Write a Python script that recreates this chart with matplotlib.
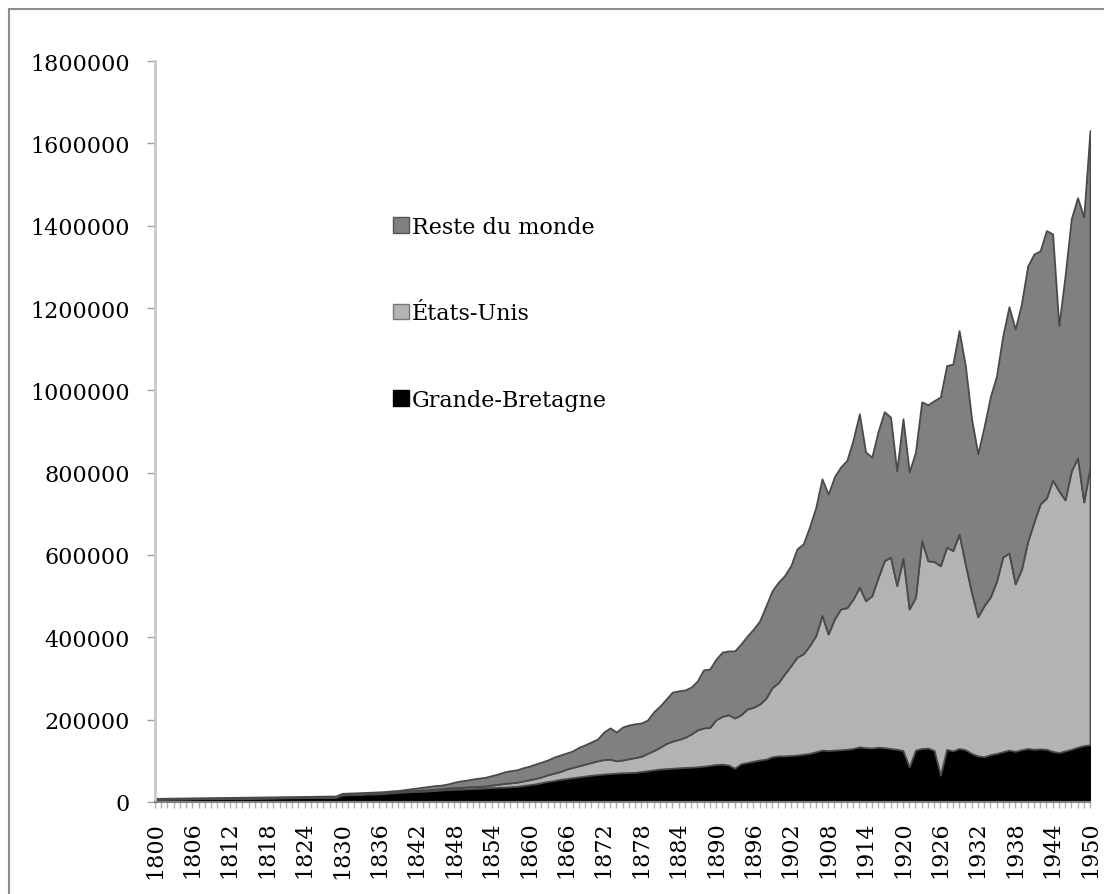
import matplotlib
matplotlib.use("Agg")
import matplotlib.pyplot as plt
from matplotlib.patches import Patch, Rectangle

plt.rcParams['font.family'] = ['DejaVu Serif']

years = list(range(1800, 1951))

grande_bretagne = [
    7000, 7100, 7300, 7400, 7600, 7700, 7900, 8000, 8200, 8300,
    8500, 8600, 8800, 8900, 9100, 9200, 9400, 9500, 9700, 9800,
    10000, 10100, 10300, 10400, 10600, 10700, 10900, 11000, 11200, 11300,
    17000, 17500, 18000, 18500, 19000, 19500, 20000, 21000, 22000, 23000,
    24000, 25000, 25500, 26000, 27000, 28000, 29000, 30000, 30500, 31000,
    32000, 32500, 33000, 34000, 35000, 35500, 36000, 37000, 38000, 40000,
    42000, 44000, 47000, 50000, 52000, 55000, 57000, 59000, 61000, 63000,
    65000, 66500, 68000, 69000, 70000, 71000, 71500, 72000, 74000, 76000,
    78000, 80000, 81000, 82000, 83000, 84000, 84500, 85500, 87000, 89000,
    91000, 92000, 90000, 82000, 93000, 96000, 99000, 102000, 104000, 110000,
    112000, 112000, 113000, 114000, 116000, 118000, 122000, 126000, 125000, 126000,
    127000, 128000, 130000, 134000, 132000, 131000, 133000, 132000, 130000, 128000,
    125000, 85000, 126000, 130000, 131000, 125000, 65000, 128000, 124000, 130000,
    127000, 118000, 112000, 110000, 115000, 118000, 122000, 126000, 123000, 127000,
    130000, 128000, 129000, 128000, 123000, 120000, 124000, 128000, 133000, 137000,
    139000,
]

etats_unis = [
    100, 100, 100, 150, 150, 150, 200, 200, 200, 250,
    250, 250, 300, 300, 300, 350, 350, 400, 400, 450,
    450, 500, 500, 550, 600, 600, 650, 700, 750, 800,
    1000, 1100, 1200, 1300, 1400, 1500, 1600, 1700, 2000, 2000,
    2000, 2500, 2500, 3000, 3000, 3500, 3500, 4000, 4500, 4500,
    5000, 5000, 5000, 5000, 6000, 7500, 9000, 9500, 10000, 11000,
    12000, 13000, 14000, 16000, 18000, 19000, 23000, 25000, 27000, 29000,
    31000, 33500, 35000, 35000, 30000, 31000, 33500, 36000, 37000, 42000,
    47000, 53000, 61000, 66000, 69000, 73000, 80500, 89500, 93000, 92000,
    109000, 116000, 122000, 122000, 119000, 130000, 131000, 136000, 148000, 168000,
    178000, 199000, 218000, 238000, 244000, 262000, 282000, 327000, 283000, 319000,
    342000, 344000, 363000, 388000, 357000, 370000, 412000, 454000, 465000, 398000,
    467000, 384000, 371000, 505000, 455000, 459000, 509000, 491000, 487000, 521000,
    451000, 391000, 338000, 367000, 383000, 418000, 473000, 479000, 407000, 438000,
    503000, 552000, 595000, 610000, 659000, 636000, 610000, 676000, 703000, 592000,
    675000,
]

reste_du_monde = [
    1800, 1800, 1850, 1850, 1900, 1900, 1950, 1950, 2000, 2000,
    2050, 2050, 2100, 2100, 2150, 2150, 2200, 2200, 2250, 2250,
    2300, 2300, 2350, 2350, 2400, 2400, 2450, 2450, 2500, 2500,
    3000, 3000, 3000, 3000, 3000, 3000, 3000, 3000, 3000, 3000,
    4000, 4500, 6000, 7000, 8000, 8500, 8500, 10000, 13000, 15500,
    16000, 18500, 20000, 21000, 23000, 25000, 28000, 29500, 30000, 32000,
    33000, 35000, 36000, 36000, 39000, 40000, 39000, 40000, 45000, 47000,
    50000, 53000, 67000, 76000, 70000, 80000, 82000, 82000, 81000, 81000,
    94000, 100000, 108000, 119000, 118000, 115000, 114000, 119000, 141000, 142000,
    147000, 156000, 155000, 163000, 172000, 177000, 190000, 202000, 224000, 235000,
    244000, 239000, 243000, 263000, 267000, 288000, 311000, 332000, 340000, 345000,
    345000, 358000, 387000, 421000, 361000, 337000, 355000, 362000, 340000, 278000,
    339000, 333000, 353000, 337000, 379000, 391000, 410000, 441000, 453000, 494000,
    482000, 422000, 396000, 434000, 486000, 499000, 537000, 598000, 619000, 645000,
    669000, 651000, 615000, 650000, 598000, 401000, 544000, 613000, 632000, 692000,
    817000,
]

series_labels = ["Grande-Bretagne", "États-Unis", "Reste du monde"]
series_colors = ["#000000", "#b3b3b3", "#808080"]
y_ticks = list(range(0, 1800001, 200000))
x_label_years = list(range(1800, 1951, 6))

fig = plt.figure(figsize=(11.04, 8.95), dpi=100)
ax = fig.add_axes([155 / 1104, 1 - 803 / 895, (1090 - 155) / 1104, (803 - 62) / 895])

polys = ax.stackplot(years, grande_bretagne, etats_unis, reste_du_monde,
                     colors=series_colors, edgecolor="#4a4a4a", linewidth=1.3)
polys[0].set_edgecolor("#000000")

ax.set_xlim(1800, 1950)
ax.set_ylim(0, 1800000)
ax.set_yticks(y_ticks)
ax.set_yticklabels([str(v) for v in y_ticks], fontsize=16)
ax.set_xticks(years)
ax.set_xticklabels([str(y) if y in x_label_years else "" for y in years],
                   rotation=90, fontsize=16)
ax.tick_params(axis="x", length=4.5, width=1, color="#b0b0b0", pad=9)
ax.tick_params(axis="y", length=6, width=1, color="#a0a0a0", pad=12)

for s in ["top", "right"]:
    ax.spines[s].set_visible(False)
ax.spines["left"].set_color("#c8c8c8")
ax.spines["left"].set_linewidth(2)
ax.spines["bottom"].set_color("#808080")
ax.spines["bottom"].set_linewidth(1.5)

handles = [Patch(facecolor=series_colors[2], edgecolor="#555555", label=series_labels[2]),
           Patch(facecolor=series_colors[1], edgecolor="#777777", label=series_labels[1]),
           Patch(facecolor=series_colors[0], edgecolor="#000000", label=series_labels[0])]
leg = fig.legend(handles=handles, loc="upper left", bbox_to_anchor=(393 / 1104, 1 - 217 / 895),
                 frameon=False, fontsize=16, handlelength=0.7, handleheight=0.7,
                 handletextpad=0.15, labelspacing=2.9, borderaxespad=0, borderpad=0)

# outer chart-area border (left and top visible)
fig.patches.append(Rectangle((9 / 1104, -0.05), 1.2, 1 - 10 / 895 + 0.05,
                             transform=fig.transFigure, fill=False,
                             edgecolor="#8c8c8c", linewidth=1.5))

fig.savefig("out.png", dpi=100)
